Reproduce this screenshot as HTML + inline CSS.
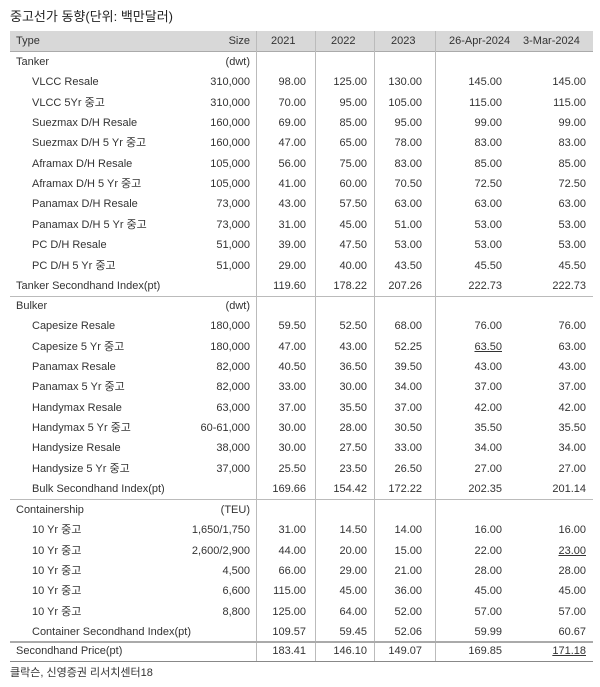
<!DOCTYPE html>
<html><head><meta charset="utf-8"><style>
body{margin:0;width:600px;height:687px;background:#fff;font-family:"Liberation Sans","Noto Sans CJK KR",sans-serif;color:#333;position:relative;overflow:hidden}
.t{position:absolute;left:10px;top:6px;font-size:13px;color:#222}
.hd{position:absolute;left:10px;top:31px;width:583px;height:20px;background:#d8d8d8;border-bottom:1px solid #aaa}
.r{position:absolute;left:0;width:600px;height:20px;font-size:11px;line-height:20px}
.r span{position:absolute;white-space:nowrap}
.a{left:16px}.b{left:32px}
.s{right:350px}
.c1{right:294px}.c2{right:233px}.c3{right:178px}.c4{right:98px}.c5{right:14px}
.v{position:absolute;width:1px;background:#bbb}
.h{position:absolute;left:10px;width:583px;height:1px;background:#bbb}
.f{position:absolute;left:10px;top:664px;font-size:11px}
</style></head><body>
<div class="t">중고선가 동향(단위: 백만달러)</div>
<div class="hd"></div>
<div class="v" style="left:256px;top:31px;height:630px"></div>
<div class="v" style="left:315px;top:31px;height:630px"></div>
<div class="v" style="left:374px;top:31px;height:630px"></div>
<div class="v" style="left:435px;top:31px;height:630px"></div>
<div class="h" style="top:296px"></div>
<div class="h" style="top:499px"></div>
<div class="h" style="top:641px;height:2px;background:#aaa"></div>
<div class="h" style="top:661px;background:#888"></div>
<div id="rows"></div>
<div class="f">클락슨, 신영증권 리서치센터18</div>
<script>
var D=[
["h","Type","Size","2021","2022","2023","26-Apr-2024","3-Mar-2024",41],
["a","Tanker","(dwt)","","","","","",62],
["b","VLCC Resale","310,000","98.00","125.00","130.00","145.00","145.00"],
["b","VLCC 5Yr 중고","310,000","70.00","95.00","105.00","115.00","115.00"],
["b","Suezmax D/H Resale","160,000","69.00","85.00","95.00","99.00","99.00"],
["b","Suezmax D/H 5 Yr 중고","160,000","47.00","65.00","78.00","83.00","83.00"],
["b","Aframax D/H Resale","105,000","56.00","75.00","83.00","85.00","85.00"],
["b","Aframax D/H 5 Yr 중고","105,000","41.00","60.00","70.50","72.50","72.50"],
["b","Panamax D/H Resale","73,000","43.00","57.50","63.00","63.00","63.00"],
["b","Panamax D/H 5 Yr 중고","73,000","31.00","45.00","51.00","53.00","53.00"],
["b","PC D/H Resale","51,000","39.00","47.50","53.00","53.00","53.00"],
["b","PC D/H 5 Yr 중고","51,000","29.00","40.00","43.50","45.50","45.50"],
["a","Tanker Secondhand Index(pt)","","119.60","178.22","207.26","222.73","222.73"],
["a","Bulker","(dwt)","","","","","",306],
["b","Capesize Resale","180,000","59.50","52.50","68.00","76.00","76.00"],
["b","Capesize 5 Yr 중고","180,000","47.00","43.00","52.25","<u>63.50</u>","63.00"],
["b","Panamax Resale","82,000","40.50","36.50","39.50","43.00","43.00"],
["b","Panamax 5 Yr 중고","82,000","33.00","30.00","34.00","37.00","37.00"],
["b","Handymax Resale","63,000","37.00","35.50","37.00","42.00","42.00"],
["b","Handymax 5 Yr 중고","60-61,000","30.00","28.00","30.50","35.50","35.50"],
["b","Handysize Resale","38,000","30.00","27.50","33.00","34.00","34.00"],
["b","Handysize 5 Yr 중고","37,000","25.50","23.50","26.50","27.00","27.00"],
["b","Bulk Secondhand Index(pt)","","169.66","154.42","172.22","202.35","201.14"],
["a","Containership","(TEU)","","","","","",510],
["b","10 Yr 중고","1,650/1,750","31.00","14.50","14.00","16.00","16.00"],
["b","10 Yr 중고","2,600/2,900","44.00","20.00","15.00","22.00","<u>23.00</u>"],
["b","10 Yr 중고","4,500","66.00","29.00","21.00","28.00","28.00"],
["b","10 Yr 중고","6,600","115.00","45.00","36.00","45.00","45.00"],
["b","10 Yr 중고","8,800","125.00","64.00","52.00","57.00","57.00"],
["b","Container Secondhand Index(pt)","","109.57","59.45","52.06","59.99","60.67"],
["a","Secondhand Price(pt)","","183.41","146.10","149.07","169.85","<u>171.18</u>",651]
];
var h="",y=0;
D.forEach(function(r){
 if(r[8]!==undefined)y=r[8];else y+=20.35;
 var cls=r[0]=="h"?"a":r[0];
 var hc=r[0]=="h";
 h+='<div class="r" style="top:'+(y-10)+'px"><span class="'+cls+'">'+r[1]+'</span><span class="s">'+r[2]+'</span>';
 if(hc){h+='<span style="left:271px">2021</span><span style="left:331px">2022</span><span style="left:391px">2023</span><span style="left:449px">26-Apr-2024</span><span style="left:523px">3-Mar-2024</span>';}
 else for(var i=3;i<8;i++)h+='<span class="c'+(i-2)+'">'+r[i]+'</span>';
 h+='</div>';
});
document.getElementById("rows").innerHTML=h;
</script>
</body></html>
